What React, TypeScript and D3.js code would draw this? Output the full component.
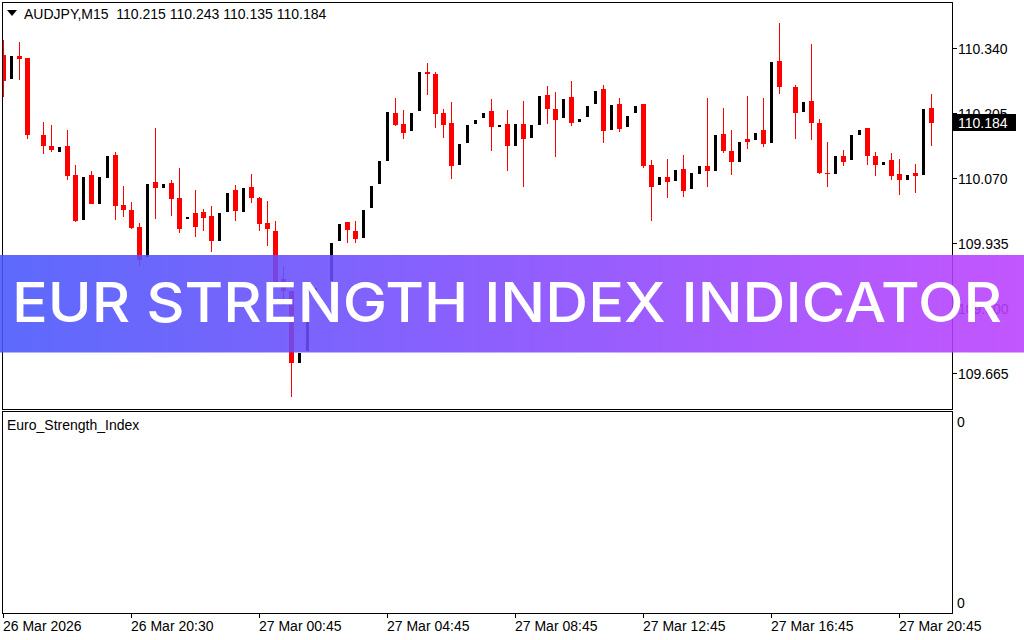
import React from "react";
import * as d3 from "d3";

// AUDJPY M15 candles (left to right)
const opens = [
  110.325, 110.275, 110.323, 110.319, 110.159, 110.159, 110.136, 110.123, 110.136, 110.076,
  109.982, 110.076, 110.015, 110.069, 110.117, 110.013, 110.003, 109.968, 109.905, 110.061,
  110.049, 110.059, 110.028, 109.984, 109.997, 109.999, 109.99, 109.939, 109.999, 110.044,
  109.999, 110.051, 110.028, 109.976, 109.959, 109.86, 109.835, 109.685, 109.71, 109.826,
  109.851, 109.855, 109.939, 109.978, 109.959, 109.945, 110.007, 110.057, 110.105, 110.204,
  110.182, 110.167, 110.209, 110.29, 110.285, 110.204, 110.184, 110.096, 110.142, 110.182,
  110.194, 110.209, 110.175, 110.182, 110.136, 110.182, 110.152, 110.179, 110.242, 110.213,
  110.194, 110.238, 110.186, 110.196, 110.223, 110.254, 110.169, 110.223, 110.175, 110.204,
  110.223, 110.096, 110.055, 110.071, 110.063, 110.088, 110.047, 110.078, 110.094, 110.084,
  110.161, 110.125, 110.103, 110.15, 110.148, 110.169, 110.142, 110.312, 110.258, 110.258,
  110.206, 110.229, 110.184, 110.08, 110.078, 110.115, 110.107, 110.159, 110.173, 110.115,
  110.096, 110.107, 110.078, 110.065, 110.08, 110.076, 110.215,
];
const highs = [
  110.357, 110.323, 110.352, 110.319, 110.159, 110.186, 110.179, 110.134, 110.169, 110.096,
  110.071, 110.084, 110.071, 110.115, 110.123, 110.053, 110.02, 109.976, 110.057, 110.173,
  110.057, 110.065, 110.09, 109.988, 110.044, 110.005, 110.011, 109.997, 110.038, 110.055,
  110.049, 110.078, 110.03, 110.022, 109.98, 109.887, 109.835, 109.705, 109.841, 109.841,
  109.851, 109.934, 109.974, 109.978, 109.98, 110.003, 110.053, 110.105, 110.206, 110.236,
  110.211, 110.204, 110.29, 110.308, 110.29, 110.213, 110.227, 110.14, 110.179, 110.19,
  110.204, 110.233, 110.179, 110.211, 110.182, 110.229, 110.179, 110.24, 110.26, 110.248,
  110.233, 110.271, 110.192, 110.219, 110.25, 110.263, 110.221, 110.236, 110.198, 110.219,
  110.223, 110.107, 110.071, 110.109, 110.086, 110.117, 110.08, 110.094, 110.236, 110.159,
  110.215, 110.169, 110.144, 110.24, 110.163, 110.236, 110.31, 110.392, 110.258, 110.263,
  110.227, 110.348, 110.192, 110.144, 110.115, 110.128, 110.159, 110.169, 110.173, 110.123,
  110.103, 110.121, 110.109, 110.076, 110.098, 110.213, 110.243,
];
const lows = [
  110.238, 110.275, 110.273, 110.151, 110.159, 110.119, 110.123, 110.123, 110.065, 109.978,
  109.982, 110.015, 110.015, 110.069, 109.982, 109.988, 109.963, 109.887, 109.905, 109.984,
  110.049, 109.99, 109.955, 109.984, 109.947, 109.959, 109.916, 109.939, 109.999, 109.98,
  109.999, 110.018, 109.959, 109.928, 109.853, 109.804, 109.615, 109.685, 109.71, 109.826,
  109.851, 109.855, 109.939, 109.934, 109.934, 109.945, 110.007, 110.057, 110.105, 110.177,
  110.15, 110.167, 110.209, 110.242, 110.173, 110.152, 110.067, 110.096, 110.142, 110.182,
  110.194, 110.125, 110.175, 110.084, 110.136, 110.051, 110.152, 110.179, 110.182, 110.113,
  110.194, 110.177, 110.186, 110.196, 110.223, 110.142, 110.169, 110.165, 110.175, 110.204,
  110.09, 109.98, 110.055, 110.028, 110.063, 110.03, 110.047, 110.078, 110.051, 110.084,
  110.121, 110.076, 110.103, 110.13, 110.148, 110.134, 110.142, 110.244, 110.258, 110.15,
  110.206, 110.148, 110.078, 110.051, 110.078, 110.094, 110.107, 110.159, 110.096, 110.074,
  110.096, 110.065, 110.034, 110.065, 110.038, 110.076, 110.135,
];
const closes = [
  110.271, 110.323, 110.317, 110.159, 110.159, 110.136, 110.128, 110.134, 110.074, 109.98,
  110.071, 110.015, 110.071, 110.115, 110.011, 110.003, 109.966, 109.9, 110.057, 110.049,
  110.057, 110.026, 109.963, 109.988, 109.968, 109.986, 109.939, 109.997, 110.038, 110.001,
  110.049, 110.028, 109.974, 109.963, 109.854, 109.835, 109.685, 109.705, 109.841, 109.841,
  109.851, 109.934, 109.974, 109.961, 109.943, 110.003, 110.053, 110.105, 110.206, 110.179,
  110.163, 110.204, 110.29, 110.285, 110.202, 110.179, 110.094, 110.14, 110.179, 110.19,
  110.204, 110.175, 110.179, 110.136, 110.182, 110.15, 110.179, 110.24, 110.213, 110.19,
  110.233, 110.184, 110.192, 110.219, 110.25, 110.167, 110.221, 110.171, 110.198, 110.219,
  110.094, 110.051, 110.071, 110.061, 110.086, 110.042, 110.08, 110.094, 110.084, 110.159,
  110.125, 110.103, 110.144, 110.144, 110.163, 110.14, 110.31, 110.258, 110.258, 110.204,
  110.227, 110.184, 110.08, 110.078, 110.115, 110.103, 110.159, 110.169, 110.115, 110.096,
  110.103, 110.074, 110.065, 110.076, 110.074, 110.213, 110.184,
];

const priceTicks = [110.34, 110.205, 110.07, 109.935, 109.8, 109.665];
const timeLabels = [
  "26 Mar 2026",
  "26 Mar 20:30",
  "27 Mar 00:45",
  "27 Mar 04:45",
  "27 Mar 08:45",
  "27 Mar 12:45",
  "27 Mar 16:45",
  "27 Mar 20:45",
];
const barsPerLabel = 16;
const symbolLine = "AUDJPY,M15  110.215 110.243 110.135 110.184";
const lastPrice = 110.184;
const indicatorName = "Euro_Strength_Index";
const indicatorTicks = ["0", "0"];
const bannerText = "EUR STRENGTH INDEX INDICATOR";

const W = 1024;
const H = 640;
const FONT = "Tahoma, 'Liberation Sans', Arial, sans-serif";
const FS = 14;

const paneLeft = 2.5;
const paneRight = 952.5;
const mainTop = 2.5;
const mainBottom = 409.5;
const subTop = 411.5;
const subBottom = 613.5;

export default function App() {
  const n = opens.length;
  const x = d3.scaleLinear().domain([0, n - 1]).range([3.5, 3.5 + 8 * (n - 1)]);
  const y = d3
    .scaleLinear()
    .domain([109.665, 110.34])
    .range([372.7, 47.7]);
  const fmt = d3.format(".3f");

  const candles = d3.range(n).map((i) => ({
    i,
    o: opens[i],
    h: highs[i],
    l: lows[i],
    c: closes[i],
  }));

  return (
    <svg
      width={W}
      height={H}
      style={{ position: "absolute", left: 0, top: 0, background: "#fff" }}
      fontFamily={FONT}
    >
      <defs>
        <clipPath id="main-clip">
          <rect x={3} y={3} width={paneRight - 3} height={mainBottom - 3} />
        </clipPath>
        <linearGradient id="banner-grad" x1="0" x2="1" y1="0" y2="0">
          <stop offset="0%" stopColor="#4656fb" />
          <stop offset="50%" stopColor="#8049fd" />
          <stop offset="100%" stopColor="#bb3ffe" />
        </linearGradient>
      </defs>
      <rect width={W} height={H} fill="#fff" />

      {/* candles */}
      <g clipPath="url(#main-clip)" shapeRendering="crispEdges">
        {candles.map((d) => {
          const bear = d.c < d.o;
          const cx = x(d.i);
          if (!bear) {
            const top = Math.round(y(d.c));
            const bot = Math.round(y(d.o));
            return (
              <rect key={d.i} x={cx - 1.5} y={top} width={3} height={bot - top} fill="#000" />
            );
          }
          const top = Math.round(y(d.o));
          const bot = Math.round(y(d.c));
          return (
            <g key={d.i}>
              <rect
                x={cx - 0.5}
                y={Math.round(y(d.h))}
                width={1}
                height={Math.max(1, Math.round(y(d.l)) - Math.round(y(d.h)))}
                fill="#ff0000"
              />
              <rect x={cx - 2.5} y={top} width={5} height={Math.max(1, bot - top)} fill="#ff0000" />
            </g>
          );
        })}
      </g>

      {/* pane frames */}
      <g fill="none" stroke="#000" strokeWidth={1} shapeRendering="crispEdges">
        <rect x={paneLeft} y={mainTop} width={paneRight - paneLeft} height={mainBottom - mainTop} />
        <rect x={paneLeft} y={subTop} width={paneRight - paneLeft} height={subBottom - subTop} />
      </g>

      {/* price axis */}
      {priceTicks.map((p) => {
        const ty = Math.round(y(p)) + 0.5;
        return (
          <g key={p}>
            <line x1={paneRight} x2={paneRight + 4} y1={ty} y2={ty} stroke="#000" shapeRendering="crispEdges" />
            <text x={958} y={ty + 5} fontSize={FS} fill="#000">
              {fmt(p)}
            </text>
          </g>
        );
      })}
      <rect x={953} y={114} width={63} height={17} fill="#000" />
      <text x={958} y={Math.round(y(lastPrice)) + 5} fontSize={FS} fill="#fff">
        {fmt(lastPrice)}
      </text>

      {/* top-left symbol line */}
      <path d="M7,10 L17,10 L12,16 Z" fill="#000" />
      <text x={24} y={18.5} fontSize={FS} fill="#000">
        {symbolLine.replace("  ", "\u00a0\u00a0")}
      </text>

      {/* indicator pane */}
      <text x={7} y={429.5} fontSize={FS} fill="#000">
        {indicatorName}
      </text>
      <text x={957} y={427} fontSize={FS} fill="#000">
        {indicatorTicks[0]}
      </text>
      <text x={957} y={608} fontSize={FS} fill="#000">
        {indicatorTicks[1]}
      </text>

      {/* time axis */}
      {timeLabels.map((t, j) => {
        const tx = Math.round(x(j * barsPerLabel) - 0.5) + 0.5;
        return (
          <g key={t}>
            <line x1={tx} x2={tx} y1={subBottom} y2={618} stroke="#000" shapeRendering="crispEdges" />
            <text x={tx - 0.5} y={631} fontSize={FS} fill="#000">
              {t}
            </text>
          </g>
        );
      })}

      {/* banner */}
      <rect x={0} y={255} width={W} height={97.5} fill="url(#banner-grad)" opacity={0.88} />
      <text
        x={12}
        y={321.7}
        fontFamily="Inter, 'Open Sans', sans-serif"
        fontWeight={500}
        fontSize={55}
        fill="#fff"
        textLength={990}
        lengthAdjust="spacingAndGlyphs"
      >
        {bannerText}
      </text>
    </svg>
  );
}
